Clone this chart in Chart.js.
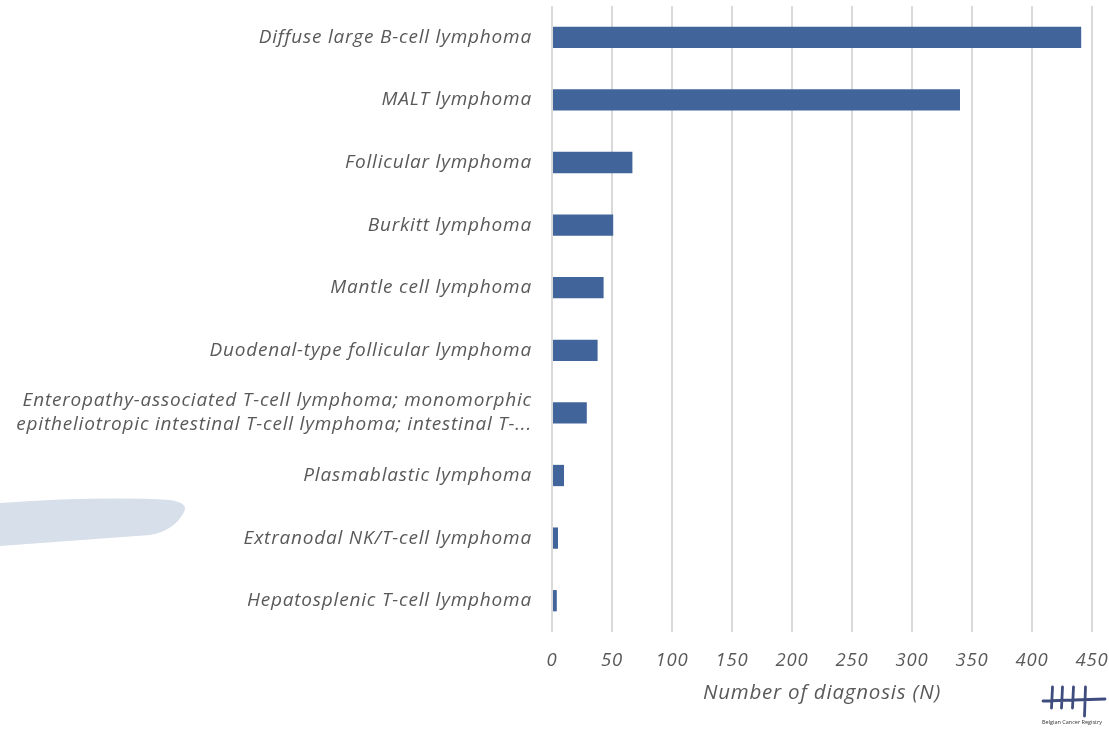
<!DOCTYPE html>
<html>
<head>
<meta charset="utf-8">
<script src="https://cdn.jsdelivr.net/npm/chart.js@4"></script>
<style>
  body { margin: 0; background: #fff; }
  #wrap { width: 1109px; height: 729px; position: relative; }
</style>
</head>
<body>
<div id="wrap"><canvas id="lymphomaChart"></canvas></div>
<script>
const categories = [
    'Diffuse large B-cell lymphoma',
    'MALT lymphoma',
    'Follicular lymphoma',
    'Burkitt lymphoma',
    'Mantle cell lymphoma',
    'Duodenal-type follicular lymphoma',
    ['Enteropathy-associated T-cell lymphoma; monomorphic', 'epitheliotropic intestinal T-cell lymphoma; intestinal T-...'],
    'Plasmablastic lymphoma',
    'Extranodal NK/T-cell lymphoma',
    'Hepatosplenic T-cell lymphoma',
];
const diagnoses = [441, 340, 67, 51, 43, 38, 29, 10, 5, 4];
const xTicks = [0, 50, 100, 150, 200, 250, 300, 350, 400, 450];

const textGrey = '#595959';
const fontFamily = '"Open Sans", sans-serif';

// brush stroke on the left and registry logo bottom right
const decorations = {
    id: 'decorations',
    beforeDraw(chart) {
        const ctx = chart.ctx;
        ctx.save();
        ctx.fillStyle = '#d7dfea';
        ctx.beginPath();
        ctx.moveTo(0, 503);
        ctx.quadraticCurveTo(100, 496, 170, 500);
        ctx.quadraticCurveTo(189, 503, 184, 512);
        ctx.quadraticCurveTo(174, 531, 150, 535);
        ctx.lineTo(0, 546);
        ctx.closePath();
        ctx.fill();
        ctx.restore();
        // slightly wider letter spacing, closer to the original font
        ctx.letterSpacing = '0.8px';
    },
    afterDraw(chart) {
        const ctx = chart.ctx;
        ctx.save();
        ctx.letterSpacing = '0px';
        ctx.strokeStyle = '#3f4c7e';
        ctx.lineCap = 'round';
        ctx.lineWidth = 2.8;
        ctx.beginPath();
        ctx.moveTo(1043, 701);
        ctx.lineTo(1105, 699);
        [1052, 1062, 1073, 1085].forEach(function (x, i) {
            ctx.moveTo(x + 0.5, 687);
            ctx.lineTo(x - 0.5, i === 3 ? 716 : 708);
        });
        ctx.stroke();
        ctx.fillStyle = '#333';
        ctx.font = '5.5px ' + fontFamily;
        ctx.textAlign = 'left';
        ctx.fillText('Belgian Cancer Registry', 1042, 724);
        ctx.restore();
    },
};

const ctx = document.getElementById('lymphomaChart').getContext('2d');
new Chart(ctx, {
    type: 'bar',
    data: {
        labels: categories,
        datasets: [{
            label: 'Number of diagnosis (N)',
            data: diagnoses,
            backgroundColor: '#41649b',
            borderWidth: 0,
            categoryPercentage: 1,
            barPercentage: 0.34,
        }],
    },
    options: {
        indexAxis: 'y',
        responsive: true,
        maintainAspectRatio: false,
        animation: false,
        layout: { padding: { top: 6, right: 17, left: 0, bottom: 0 } },
        scales: {
            x: {
                min: 0,
                max: 450,
                afterBuildTicks: function (scale) {
                    scale.ticks = xTicks.map(function (v) { return { value: v }; });
                },
                afterFit: function (scale) {
                    scale.height = 97;
                    scale.paddingLeft = 0;
                    scale.paddingRight = 0;
                },
                grid: {
                    color: '#d9d9d9',
                    lineWidth: 2,
                    drawTicks: false,
                },
                border: { display: false },
                ticks: {
                    color: textGrey,
                    padding: 18,
                    font: { family: fontFamily, size: 18.5, style: 'italic' },
                },
                title: {
                    display: true,
                    text: 'Number of diagnosis (N)',
                    color: textGrey,
                    padding: { top: 6, bottom: 24 },
                    font: { family: fontFamily, size: 20.5, style: 'italic' },
                },
            },
            y: {
                afterFit: function (scale) {
                    scale.width = 552;
                    scale.paddingTop = 0;
                    scale.paddingBottom = 0;
                },
                grid: { display: false, drawTicks: false },
                border: { display: false },
                ticks: {
                    color: textGrey,
                    padding: 20,
                    font: { family: fontFamily, size: 19, style: 'italic', lineHeight: 1.25 },
                },
            },
        },
        plugins: {
            legend: { display: false },
            tooltip: { enabled: false },
        },
    },
    plugins: [decorations],
});
</script>
</body>
</html>
